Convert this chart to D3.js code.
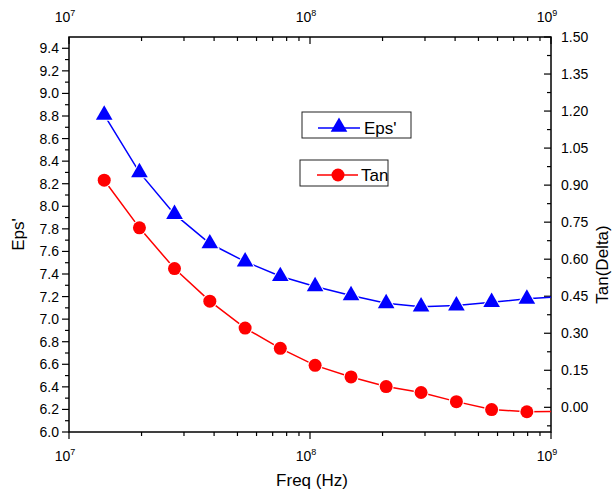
<!DOCTYPE html>
<html>
  <head>
    <meta http-equiv="Content-Type" content="text/html; charset=UTF-8">
    <script type="text/javascript" src="https://cdn.jsdelivr.net/npm/d3@7"></script>
    <style>
      body { margin: 0; background: #fff; }
      #chart { width: 613px; height: 492px; }
      text { font-family: "Liberation Sans", Arial, sans-serif; }
    </style>
  </head>
  <body>
    <div id="chart"></div>
    <script>
// data (last point sits just past 10^9 and is clipped)
var freq = [1.4e7, 1.96e7, 2.74e7, 3.84e7, 5.38e7, 7.53e7, 1.05e8, 1.48e8, 2.07e8, 2.89e8, 4.05e8, 5.67e8, 7.94e8, 1.1e9];
var eps = [8.81, 8.30, 7.93, 7.67, 7.51, 7.38, 7.29, 7.21, 7.14, 7.11, 7.12, 7.15, 7.18, 7.20];
var tan = [0.920, 0.727, 0.562, 0.430, 0.321, 0.239, 0.170, 0.123, 0.084, 0.060, 0.023, -0.009, -0.018, -0.016];
var epsTicks = [6.0, 6.2, 6.4, 6.6, 6.8, 7.0, 7.2, 7.4, 7.6, 7.8, 8.0, 8.2, 8.4, 8.6, 8.8, 9.0, 9.2, 9.4];
var tanTicks = [0.00, 0.15, 0.30, 0.45, 0.60, 0.75, 0.90, 1.05, 1.20, 1.35, 1.50];
var decades = [1e7, 1e8, 1e9];

var width = 613, height = 492;
var margin = {top: 37, left: 69, right: 62, bottom: 60};
var w = width - margin.left - margin.right;
var h = height - margin.top - margin.bottom;

var x = d3.scaleLog().domain([1e7, 1e9]).range([0, w]);
var yL = d3.scaleLinear().domain([6.0, 9.5]).range([h, 0]);
var yR = d3.scaleLinear().domain([-0.1, 1.5]).range([h, 0]);

var svg = d3.select("#chart").append("svg")
    .attr("width", width)
    .attr("height", height);

var g = svg.append("g")
    .attr("transform", "translate(" + margin.left + "," + margin.top + ")");

g.append("clipPath").attr("id", "clip")
  .append("rect").attr("width", w).attr("height", h);

// minor log ticks
var minorX = [];
[1e7, 1e8].forEach(function (d) {
  for (var k = 2; k < 10; k++) minorX.push(d * k);
});

function xTicks(y0, dir) {
  g.selectAll(null).data(decades).enter().append("line")
      .attr("x1", function (d) { return x(d); }).attr("x2", function (d) { return x(d); })
      .attr("y1", y0).attr("y2", y0 + dir * 7)
      .attr("stroke", "#000").attr("stroke-width", 1.2);
  g.selectAll(null).data(minorX).enter().append("line")
      .attr("x1", function (d) { return x(d); }).attr("x2", function (d) { return x(d); })
      .attr("y1", y0).attr("y2", y0 + dir * 4)
      .attr("stroke", "#000").attr("stroke-width", 1.2);
}
xTicks(h, 1);
xTicks(0, 1);

function decadeLabels(y0) {
  var t = g.selectAll(null).data(decades).enter().append("text")
      .attr("x", function (d) { return x(d) - 4; })
      .attr("y", y0)
      .attr("text-anchor", "middle")
      .attr("font-size", "14px");
  t.append("tspan").text("10");
  t.append("tspan").attr("dy", -6).attr("font-size", "9px")
      .text(function (d) { return Math.round(Math.log10(d)); });
}
decadeLabels(h + 29);
decadeLabels(-15);

// left axis ticks (outward)
var epsMinor = d3.range(6.1, 9.5, 0.2);
g.selectAll(null).data(epsTicks).enter().append("line")
    .attr("x1", 0).attr("x2", -7)
    .attr("y1", function (d) { return yL(d); }).attr("y2", function (d) { return yL(d); })
    .attr("stroke", "#000").attr("stroke-width", 1.2);
g.selectAll(null).data(epsMinor).enter().append("line")
    .attr("x1", 0).attr("x2", -4)
    .attr("y1", function (d) { return yL(d); }).attr("y2", function (d) { return yL(d); })
    .attr("stroke", "#000").attr("stroke-width", 1.2);
g.selectAll(null).data(epsTicks).enter().append("text")
    .attr("x", -10)
    .attr("y", function (d) { return yL(d) + 5; })
    .attr("text-anchor", "end")
    .attr("font-size", "14px")
    .text(function (d) { return d.toFixed(1); });

// right axis ticks (inward)
var tanMinor = d3.range(-0.075, 1.5, 0.15);
g.selectAll(null).data(tanTicks).enter().append("line")
    .attr("x1", w).attr("x2", w - 7)
    .attr("y1", function (d) { return yR(d); }).attr("y2", function (d) { return yR(d); })
    .attr("stroke", "#000").attr("stroke-width", 1.2);
g.selectAll(null).data(tanMinor).enter().append("line")
    .attr("x1", w).attr("x2", w - 4)
    .attr("y1", function (d) { return yR(d); }).attr("y2", function (d) { return yR(d); })
    .attr("stroke", "#000").attr("stroke-width", 1.2);
g.selectAll(null).data(tanTicks).enter().append("text")
    .attr("x", w + 10)
    .attr("y", function (d) { return yR(d) + 5; })
    .attr("font-size", "14px")
    .text(function (d) { return d.toFixed(2); });

// frame
g.append("rect")
    .attr("width", w).attr("height", h)
    .attr("fill", "none").attr("stroke", "#000").attr("stroke-width", 1.5);

// axis titles
svg.append("text")
    .attr("x", margin.left + w / 2 + 2).attr("y", 486)
    .attr("text-anchor", "middle").attr("font-size", "17px")
    .text("Freq (Hz)");
svg.append("text")
    .attr("transform", "translate(24," + (margin.top + h / 2) + ") rotate(-90)")
    .attr("text-anchor", "middle").attr("font-size", "17px")
    .text("Eps'");
svg.append("text")
    .attr("transform", "translate(608," + (margin.top + h / 2 + 30) + ") rotate(-90)")
    .attr("text-anchor", "middle").attr("font-size", "17px")
    .text("Tan(Delta)");

// series
var plot = g.append("g").attr("clip-path", "url(#clip)");
var tri = d3.symbol().type(d3.symbolTriangle).size(120);

plot.append("path")
    .datum(freq)
    .attr("fill", "none").attr("stroke", "#0000ff").attr("stroke-width", 1.5)
    .attr("d", d3.line().x(function (d) { return x(d); }).y(function (d, i) { return yL(eps[i]); }));
plot.append("path")
    .datum(freq)
    .attr("fill", "none").attr("stroke", "#ff0000").attr("stroke-width", 1.5)
    .attr("d", d3.line().x(function (d) { return x(d); }).y(function (d, i) { return yR(tan[i]); }));

plot.selectAll(".tri").data(freq).enter().append("path")
    .attr("class", "tri")
    .attr("transform", function (d, i) { return "translate(" + x(d) + "," + yL(eps[i]) + ")"; })
    .attr("d", tri)
    .attr("fill", "#0000ff").attr("stroke", "#fff").attr("stroke-width", 2).attr("paint-order", "stroke");
plot.selectAll(".dot").data(freq).enter().append("circle")
    .attr("class", "dot")
    .attr("cx", function (d) { return x(d); })
    .attr("cy", function (d, i) { return yR(tan[i]); })
    .attr("r", 6.5)
    .attr("fill", "#ff0000").attr("stroke", "#fff").attr("stroke-width", 2).attr("paint-order", "stroke");

// legend
var leg1 = svg.append("g");
leg1.append("rect").attr("x", 302).attr("y", 112).attr("width", 109).attr("height", 26)
    .attr("fill", "#fff").attr("stroke", "#222").attr("stroke-width", 1);
leg1.append("line").attr("x1", 318).attr("x2", 360).attr("y1", 128).attr("y2", 128)
    .attr("stroke", "#0000ff").attr("stroke-width", 1.5);
leg1.append("path").attr("transform", "translate(339,127)").attr("d", tri).attr("fill", "#0000ff");
leg1.append("text").attr("x", 364).attr("y", 134).attr("font-size", "17px").text("Eps'");

var leg2 = svg.append("g");
leg2.append("rect").attr("x", 300).attr("y", 160).attr("width", 88).attr("height", 26)
    .attr("fill", "#fff").attr("stroke", "#222").attr("stroke-width", 1);
leg2.append("line").attr("x1", 317).attr("x2", 358).attr("y1", 175).attr("y2", 175)
    .attr("stroke", "#ff0000").attr("stroke-width", 1.5);
leg2.append("circle").attr("cx", 338).attr("cy", 175).attr("r", 6.5).attr("fill", "#ff0000");
leg2.append("text").attr("x", 361).attr("y", 181).attr("font-size", "17px").text("Tan");
    </script>
</body></html>
